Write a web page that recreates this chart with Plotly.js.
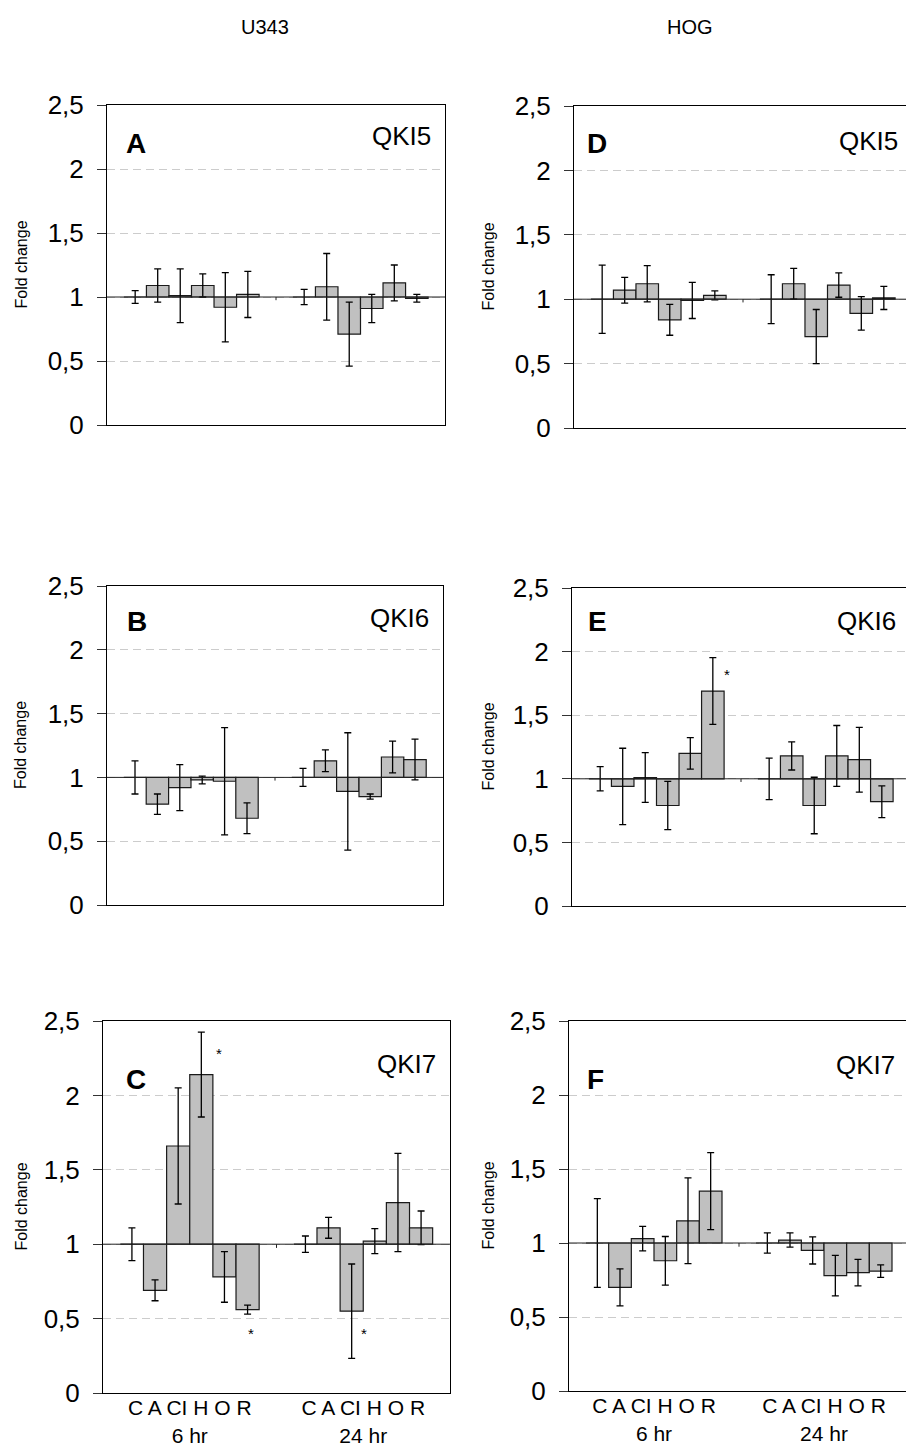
<!DOCTYPE html>
<html><head><meta charset="utf-8">
<script src="https://cdn.plot.ly/plotly-3.0.1.min.js"></script>
<style>html,body{margin:0;padding:0;overflow:hidden;background:#fff}</style>
</head><body><div id="chart"></div>
<script>
// ---------- data ----------
const series = ['C', 'A', 'CI', 'H', 'O', 'R'];
const times = ['6 hr', '24 hr'];
const yTickVals = [0, 0.5, 1, 1.5, 2, 2.5];
const yTickText = ['0', '0,5', '1', '1,5', '2', '2,5'];
const xTickText = ['C A CI H O R<br>6 hr', 'C A CI H O R<br>24 hr'];
const columnTitles = ['U343', 'HOG'];
const panelLetters = ['A', 'B', 'C', 'D', 'E', 'F'];
const isoforms = ['QKI5', 'QKI6', 'QKI7', 'QKI5', 'QKI6', 'QKI7'];
const yTitle = 'Fold change';

// fold change, order: C A CI H O R (6 hr) then C A CI H O R (24 hr)
const valA = [1, 1.09, 1.01, 1.09, 0.92, 1.02,   1, 1.08, 0.71, 0.91, 1.11, 0.99];
const errA = [0.05, 0.13, 0.21, 0.09, 0.27, 0.18, 0.06, 0.26, 0.25, 0.11, 0.14, 0.03];
const valB = [1, 0.79, 0.92, 0.98, 0.97, 0.68,   1, 1.13, 0.89, 0.85, 1.16, 1.14];
const errB = [0.13, 0.08, 0.18, 0.03, 0.42, 0.12, 0.07, 0.085, 0.46, 0.02, 0.125, 0.16];
const valC = [1, 0.69, 1.66, 2.14, 0.78, 0.56,   1, 1.11, 0.55, 1.02, 1.28, 1.11];
const errC = [0.11, 0.07, 0.39, 0.285, 0.17, 0.03, 0.055, 0.07, 0.317, 0.084, 0.33, 0.113];
const valD = [1, 1.07, 1.12, 0.84, 0.99, 1.03,   1, 1.12, 0.71, 1.11, 0.89, 1.01];
const errD = [0.265, 0.10, 0.14, 0.12, 0.14, 0.035, 0.19, 0.12, 0.21, 0.095, 0.13, 0.09];
const valE = [1, 0.94, 1.01, 0.79, 1.20, 1.69,   1, 1.18, 0.79, 1.18, 1.15, 0.82];
const errE = [0.095, 0.30, 0.196, 0.19, 0.124, 0.262, 0.163, 0.111, 0.222, 0.239, 0.255, 0.125];
const valF = [1, 0.70, 1.03, 0.88, 1.15, 1.35,   1, 1.02, 0.95, 0.78, 0.80, 0.81];
const errF = [0.30, 0.125, 0.083, 0.164, 0.29, 0.26, 0.068, 0.048, 0.092, 0.137, 0.09, 0.042];

// significance stars: panel, time, series, level
const starPanel  = ['C', 'C', 'C', 'E'];
const starTime   = ['6 hr', '6 hr', '24 hr', '6 hr'];
const starSeries = ['H', 'R', 'CI', 'R'];
const starLevel  = [2.28, 0.40, 0.40, 1.82];
const starShift  = [18, 3, 12, 14];

// ---------- layout geometry (pixels) ----------
const W = 912, H = 1452;
const X = px => px / W;
const Y = py => 1 - py / H;
const FONT = 'Liberation Sans, Arial, sans-serif';

const panels = [
  {letter: 'A', val: valA, err: errA, x0: 107, x1: 445, y0: 105, y1: 425, lx: 124, ly: 143, qy: 136, bottom: false},
  {letter: 'B', val: valB, err: errB, x0: 107, x1: 443, y0: 586, y1: 905, lx: 125, ly: 621, qy: 618, bottom: false},
  {letter: 'C', val: valC, err: errC, x0: 103, x1: 450, y0: 1021, y1: 1393, lx: 124, ly: 1079, qy: 1064, bottom: true},
  {letter: 'D', val: valD, err: errD, x0: 574, x1: 912, y0: 106, y1: 428, lx: 585, ly: 143, qy: 141, bottom: false},
  {letter: 'E', val: valE, err: errE, x0: 572, x1: 910, y0: 588, y1: 906, lx: 586, ly: 622, qy: 621, bottom: false},
  {letter: 'F', val: valF, err: errF, x0: 569, x1: 909, y0: 1021, y1: 1391, lx: 585, ly: 1079, qy: 1065, bottom: true}
];

const traces = [];
const layout = {
  width: W, height: H,
  margin: {l: 0, r: 0, t: 0, b: 0},
  paper_bgcolor: '#fff', plot_bgcolor: '#fff',
  showlegend: false,
  barmode: 'group', bargap: 0.2, bargroupgap: 0,
  font: {family: FONT, color: '#000'},
  annotations: [], shapes: []
};

panels.forEach((p, i) => {
  const n = i + 1;
  const xa = n === 1 ? 'x' : 'x' + n;
  const ya = n === 1 ? 'y' : 'y' + n;
  series.forEach((s, k) => {
    traces.push({
      type: 'bar', name: s, x: times,
      y: [p.val[k] - 1, p.val[6 + k] - 1], base: 1,
      xaxis: xa, yaxis: ya,
      marker: {color: '#c0c0c0', line: {color: '#1a1a1a', width: 1.2}},
      error_y: {type: 'data', array: [p.err[k], p.err[6 + k]], visible: true,
                color: '#000', thickness: 1.3, width: 3.5},
      hoverinfo: 'skip'
    });
  });
  layout['xaxis' + (n === 1 ? '' : n)] = {
    domain: [X(p.x0), X(p.x1)], anchor: ya, type: 'category',
    categoryorder: 'array', categoryarray: times, range: [-0.5, 1.5],
    showline: true, mirror: true, linecolor: '#000', linewidth: 1,
    ticks: '', showgrid: false, zeroline: false,
    showticklabels: p.bottom, tickmode: 'array', tickvals: times, ticktext: xTickText,
    tickfont: {family: FONT, size: 21, color: '#000'}, ticklabelstandoff: -4, fixedrange: true
  };
  layout['yaxis' + (n === 1 ? '' : n)] = {
    domain: [Y(p.y1), Y(p.y0)], anchor: xa, range: [0, 2.5],
    tickmode: 'array', tickvals: yTickVals, ticktext: yTickText,
    tickfont: {family: FONT, size: 26, color: '#000'}, ticklabelstandoff: 8,
    ticks: 'outside', ticklen: 9, tickcolor: '#333', tickwidth: 1,
    showgrid: true, gridcolor: '#cccccc', griddash: '8px,5px', gridwidth: 1,
    showline: true, mirror: true, linecolor: '#000', linewidth: 1,
    zeroline: false, fixedrange: true
  };
  // baseline at fold change 1 across the plot
  layout.shapes.push({type: 'line', xref: xa + ' domain', yref: ya,
    x0: 0, x1: 1, y0: 1, y1: 1, line: {color: '#222', width: 1}});
  // small category separator tick on the baseline
  layout.shapes.push({type: 'line', xref: xa, yref: ya,
    x0: 0.5, x1: 0.5, y0: 1, y1: 0.975, line: {color: '#222', width: 1}});
  // panel letter
  layout.annotations.push({text: '<b>' + p.letter + '</b>', xref: 'paper', yref: 'paper',
    x: X(p.lx), y: Y(p.ly), xanchor: 'left', yanchor: 'middle', showarrow: false,
    font: {family: FONT, size: 28, color: '#000'}});
  // isoform label
  layout.annotations.push({text: isoforms[i], xref: 'paper', yref: 'paper',
    x: X(p.x1 - 12), y: Y(p.qy), xanchor: 'right', yanchor: 'middle', showarrow: false,
    font: {family: FONT, size: 26, color: '#000'}});
  // y title
  layout.annotations.push({text: yTitle, xref: 'paper', yref: 'paper',
    x: X(i < 3 ? 20.5 : 487.5), y: Y((p.y0 + p.y1) / 2), xanchor: 'center', yanchor: 'middle',
    textangle: -90, showarrow: false, font: {family: FONT, size: 16, color: '#000'}});
});

// column titles
layout.annotations.push({text: columnTitles[0], xref: 'paper', yref: 'paper', x: X(265), y: Y(27),
  xanchor: 'center', yanchor: 'middle', showarrow: false, font: {family: FONT, size: 20}});
layout.annotations.push({text: columnTitles[1], xref: 'paper', yref: 'paper', x: X(690), y: Y(27),
  xanchor: 'center', yanchor: 'middle', showarrow: false, font: {family: FONT, size: 20}});

// stars
const groupW = 1 - layout.bargap;
starPanel.forEach((pl, j) => {
  const i = panelLetters.indexOf(pl);
  const n = i + 1;
  const k = series.indexOf(starSeries[j]);
  const xc = times.indexOf(starTime[j]) - groupW / 2 + (k + 0.5) * groupW / series.length;
  layout.annotations.push({text: '*', xref: n === 1 ? 'x' : 'x' + n, yref: n === 1 ? 'y' : 'y' + n,
    x: xc, y: starLevel[j], xshift: starShift[j], showarrow: false,
    font: {family: FONT, size: 15, color: '#000'}});
});

Plotly.newPlot('chart', traces, layout, {staticPlot: true, displayModeBar: false});
</script>
</body></html>
